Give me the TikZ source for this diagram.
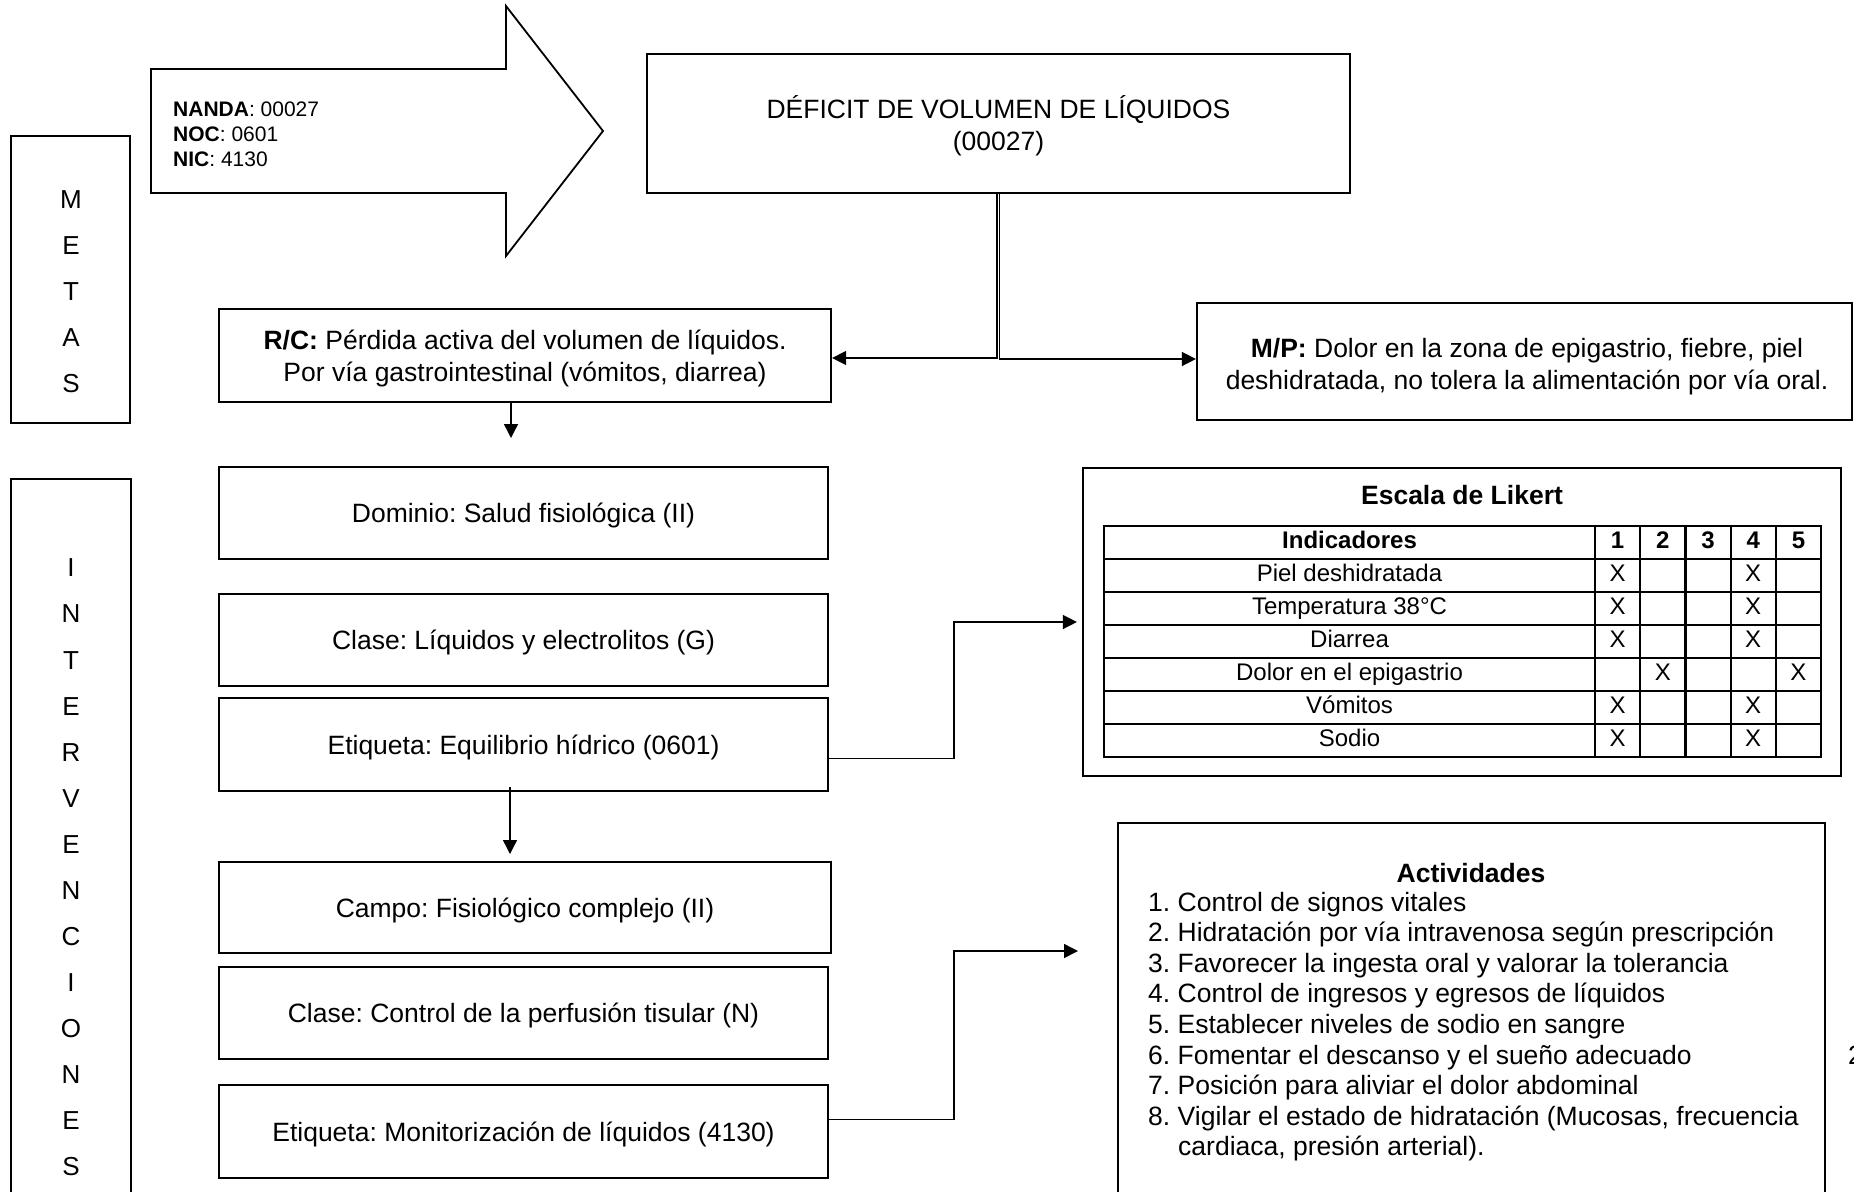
\documentclass[tikz,border=0pt]{standalone}
\usepackage{fontspec}
\setmainfont{Liberation Sans}
\usetikzlibrary{arrows.meta}
\frenchspacing
\begin{document}
\frenchspacing
\begin{tikzpicture}[x=1pt,y=-1pt,
  box/.style={draw, line width=2.2pt, inner sep=0pt, align=center, text depth=0pt, font=\fontsize{26.5}{32}\selectfont},
  frame/.style={draw, line width=2.2pt, inner sep=0pt},
  conn/.style={line width=1.4pt, -{Triangle[length=14pt,width=14pt]}},
  letters/.style={inner sep=0pt, align=center, font=\fontsize{26}{46.07}\selectfont},
  tcell/.style={inner sep=0pt, anchor=base, font=\fontsize{24}{28}\selectfont},
  tbold/.style={tcell, font=\bfseries\fontsize{24}{28}\selectfont},
  item/.style={inner sep=0pt, anchor=base west, font=\fontsize{26.5}{30}\selectfont},
  tline/.style={line width=2.2pt}]
\useasboundingbox (0,0) rectangle (1854,1191);

% side boxes
\node[frame, minimum width=119.5pt, minimum height=287pt] (metas) at (70.5,279.5) {};
\node[letters] (metasT) at (71,292) {M\\E\\T\\A\\S};
\node[frame, minimum width=120pt, minimum height=781pt] (interv) at (71,869.5) {};
\node[letters] (intervT) at (71,867.5) {I\\N\\T\\E\\R\\V\\E\\N\\C\\I\\O\\N\\E\\S};

% big arrow
\draw[line width=1.8pt, line join=miter] (151,69) -- (506,69) -- (506,6) -- (603,131) -- (506,256) -- (506,193) -- (151,193) -- cycle;
\node[anchor=west, align=left, inner sep=0pt, font=\fontsize{21}{25}\selectfont] (codes) at (173,134) {\textbf{NANDA}: 00027\\\textbf{NOC}: 0601\\\textbf{NIC}: 4130};

% top boxes
\node[box, minimum width=703pt, minimum height=139pt] (deficit) at (998.5,123.5) {DÉFICIT DE VOLUMEN DE LÍQUIDOS\\(00027)};
\node[box, minimum width=612pt, minimum height=93pt] (rc) at (525,355.5) {\textbf{R/C:} Pérdida activa del volumen de líquidos.\\Por vía gastrointestinal (vómitos, diarrea)};
\node[box, minimum width=655pt, minimum height=117pt] (mp) at (1524.5,361.5) {};
\node[inner sep=0pt, align=center, text depth=0pt, font=\fontsize{26.5}{32}\selectfont] (mptext) at (1527,364) {\textbf{M/P:} Dolor en la zona de epigastrio, fiebre, piel\\deshidratada, no tolera la alimentación por vía oral.};

\draw[conn] ([xshift=-1.5pt]deficit.south) |- ([yshift=-2.5pt]rc.east);
\draw[conn] ([xshift=1pt]deficit.south) |- ([yshift=2.5pt]mp.west);

\coordinate (d1) at (511,438);
\draw[conn] (rc.south -| d1) -- (d1);

% left column boxes
\node[box, minimum width=609pt, minimum height=92pt] (dominio) at (523.5,513) {Dominio: Salud fisiológica (II)};
\node[box, minimum width=609pt, minimum height=92pt] (claseL) at (523.5,640) {Clase: Líquidos y electrolitos (G)};
\node[box, minimum width=609pt, minimum height=93pt] (etiqE) at (523.5,744.5) {Etiqueta: Equilibrio hídrico (0601)};
\coordinate (d2) at (510,854);
\draw[conn] ([yshift=5pt]etiqE.south -| d2) -- (d2);
\node[box, minimum width=612pt, minimum height=91pt] (campo) at (525,907.5) {Campo: Fisiológico complejo (II)};
\node[box, minimum width=609pt, minimum height=92pt] (claseC) at (523.5,1013) {Clase: Control de la perfusión tisular (N)};
\node[box, minimum width=609pt, minimum height=93pt] (etiqM) at (523.5,1131.5) {Etiqueta: Monitorización de líquidos (4130)};

% Likert
\node[frame, minimum width=758pt, minimum height=308pt] (likert) at (1462,622) {};
\draw[conn, shorten >=5pt] ([yshift=-14pt]etiqE.east) -- ++(125,0) |- (likert.west);
\node[inner sep=0pt, font=\bfseries\fontsize{26.5}{30}\selectfont] (ltitle) at (1462,495) {Escala de Likert};

\draw[tline] (1104,526) rectangle (1821,757);
\foreach \yy in {559,592,625,658,691,724} \draw[tline] (1104,\yy) -- (1821,\yy);
\foreach \xx in {1595,1640.2,1685.4,1730.6,1775.8} \draw[tline] (\xx,526) -- (\xx,757);

\node[tbold] (hInd) at (1349.5,548.6) {Indicadores};
\foreach \c/\xx in {1/1617.6,2/1662.8,3/1708,4/1753.2,5/1798.4}
  \node[tbold] (h\c) at (\xx,548.6) {\c};
\foreach \r/\name in {1/Piel deshidratada,2/Temperatura 38°C,3/Diarrea,4/Dolor en el epigastrio,5/Vómitos,6/Sodio}
  \node[tcell] (ind\r) at (1349.5,548.6+33*\r) {\name};
\foreach \r/\xx in {1/1617.6,1/1753.2,2/1617.6,2/1753.2,3/1617.6,3/1753.2,4/1662.8,4/1798.4,5/1617.6,5/1753.2,6/1617.6,6/1753.2}
  \node[tcell] (x\r-\xx) at (\xx,548.6+33*\r) {X};

% Actividades
\node[frame, minimum width=707pt, minimum height=427pt] (act) at (1471.5,1036.5) {};
\coordinate (d3) at (1078,951);
\draw[conn] ([yshift=12pt]etiqM.east) -- ++(125,0) |- (d3);
\node[inner sep=0pt, font=\bfseries\fontsize{26.5}{30}\selectfont] (acttitle) at (1471,873) {Actividades};
\node[item] (a1) at (1148,911) {1. Control de signos vitales};
\node[item] (a2) at (1148,941.6) {2. Hidratación por vía intravenosa según prescripción};
\node[item] (a3) at (1148,972.2) {3. Favorecer la ingesta oral y valorar la tolerancia};
\node[item] (a4) at (1148,1002.8) {4. Control de ingresos y egresos de líquidos};
\node[item] (a5) at (1148,1033.4) {5. Establecer niveles de sodio en sangre};
\node[item] (a6) at (1148,1064) {6. Fomentar el descanso y el sueño adecuado};
\node[item] (a7) at (1148,1094.6) {7. Posición para aliviar el dolor abdominal};
\node[item] (a8) at (1148,1125.2) {8. Vigilar el estado de hidratación (Mucosas, frecuencia};
\node[item] (a8b) at (1178,1155.8) {cardiaca, presión arterial).};

\node[item] (pagenum) at (1848,1064) {2};
\end{tikzpicture}
\end{document}
